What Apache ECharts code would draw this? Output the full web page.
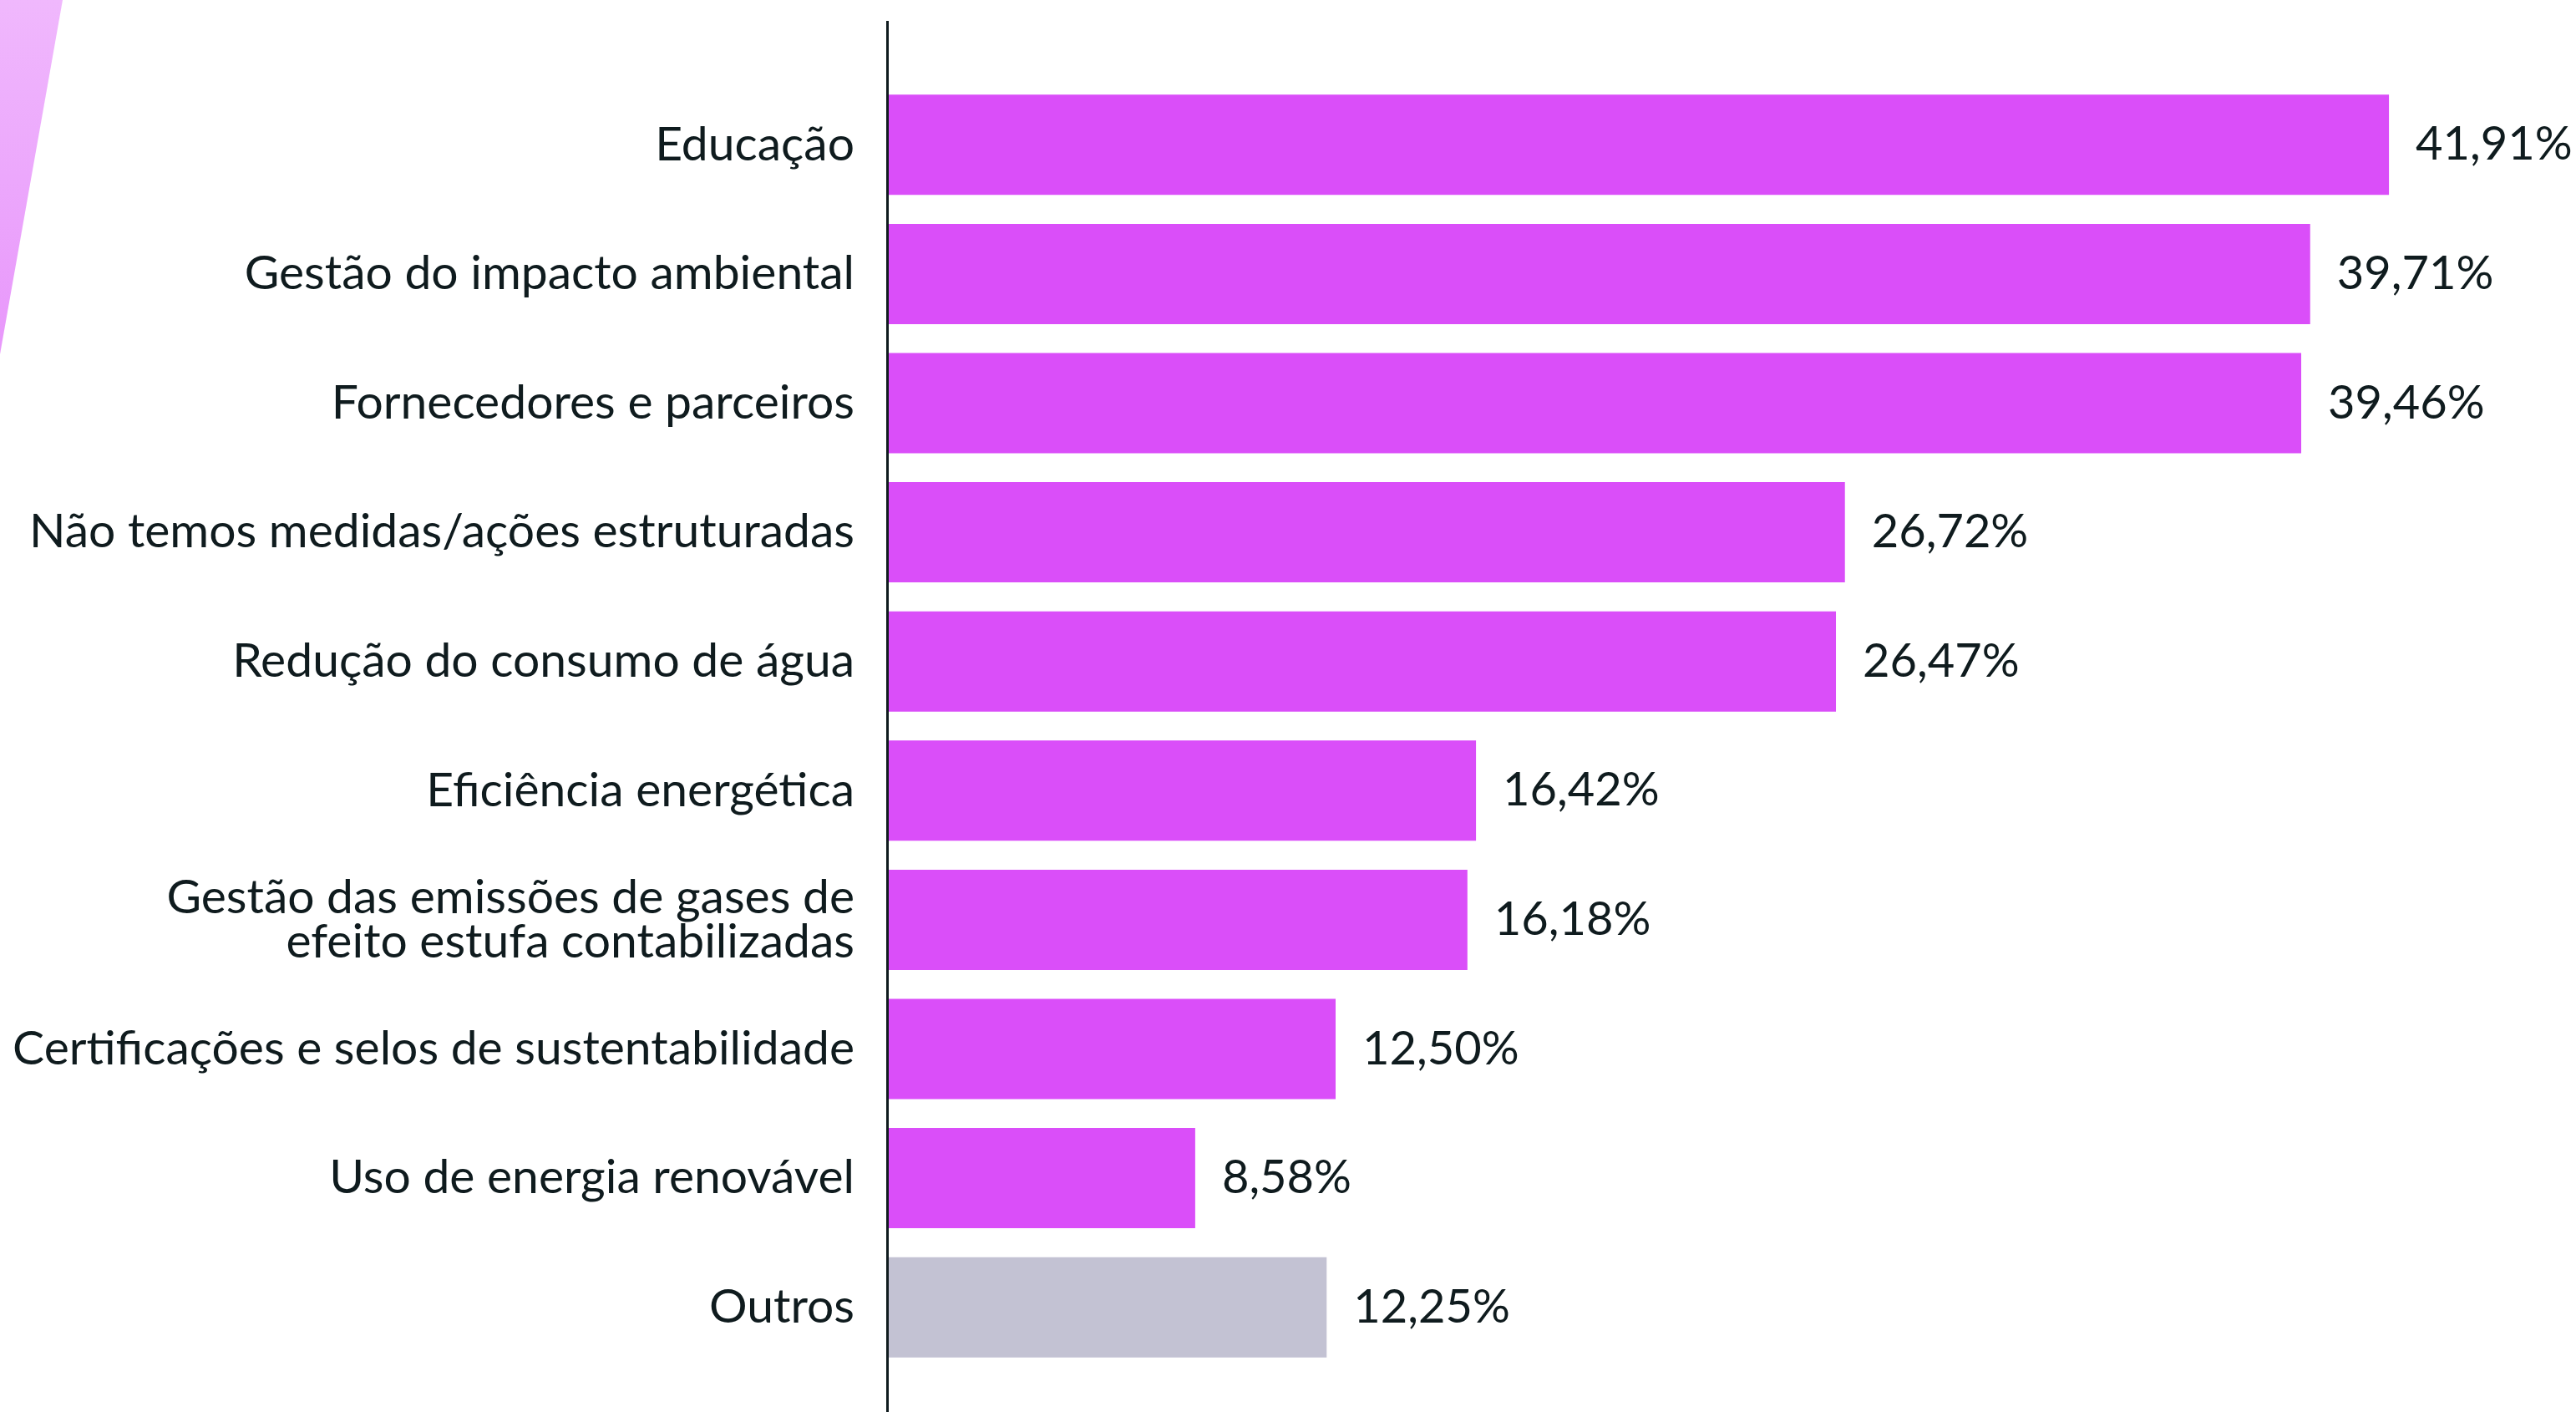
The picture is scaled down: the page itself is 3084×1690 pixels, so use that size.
<!DOCTYPE html>
<html>
<head>
<meta charset="utf-8">
<script src="https://cdn.jsdelivr.net/npm/echarts@6/dist/echarts.min.js"></script>
<style>
  html, body { margin: 0; padding: 0; background: #fff; }
  #chart { width: 3084px; height: 1690px; }
</style>
</head>
<body>
<div id="chart"></div>
<script>
// categorias (de cima para baixo)
const categories = [
  'Educação',
  'Gestão do impacto ambiental',
  'Fornecedores e parceiros',
  'Não temos medidas/ações estruturadas',
  'Redução do consumo de água',
  'Eficiência energética',
  'Gestão das emissões de gases de\nefeito estufa contabilizadas',
  'Certificações e selos de sustentabilidade',
  'Uso de energia renovável',
  'Outros'
]
const values = [41.91, 39.71, 39.46, 26.72, 26.47, 16.42, 16.18, 12.50, 8.58, 12.25]
const highlight = [true, true, true, true, true, true, true, true, true, false]

const BAR_COLOR = '#da4ef9'
const OTHER_COLOR = '#c3c2d3'
const TEXT_COLOR = '#0f1b1e'
const FONT = 'Lato, "Noto Sans", sans-serif'

const chart = echarts.init(document.getElementById('chart'), null, { renderer: 'canvas' })

const gridLeft = 1063

const option = {
  animation: false,
  backgroundColor: '#ffffff',
  grid: {
    left: gridLeft,
    right: 100,
    top: 96,
    bottom: 48,
    containLabel: false
  },
  xAxis: {
    type: 'value',
    min: 0,
    max: 44.8,
    show: false
  },
  yAxis: {
    type: 'category',
    inverse: true,
    data: categories,
    axisLine: { show: false },
    axisTick: { show: false },
    axisLabel: {
      margin: 40,
      color: TEXT_COLOR,
      fontFamily: FONT,
      fontSize: 57,
      lineHeight: 53,
      align: 'right'
    }
  },
  series: [{
    type: 'bar',
    barWidth: 120,
    data: values.map((v, i) => ({
      value: v,
      itemStyle: { color: highlight[i] ? BAR_COLOR : OTHER_COLOR }
    })),
    label: {
      show: true,
      position: 'right',
      distance: 32,
      color: TEXT_COLOR,
      fontFamily: FONT,
      fontSize: 56,
      formatter: p => p.value.toFixed(2).replace('.', ',') + '%'
    }
  }],
  graphic: [
    {
      // faixa decorativa no canto superior esquerdo
      type: 'polygon',
      shape: { points: [[0, 0], [75, 0], [0, 424]] },
      style: {
        fill: new echarts.graphic.LinearGradient(0, 0, 0, 1, [
          { offset: 0, color: '#f0b8fd' },
          { offset: 1, color: '#e897fb' }
        ])
      },
      z: 0
    },
    {
      // linha do eixo vertical
      type: 'line',
      shape: { x1: gridLeft - 0.5, y1: 25, x2: gridLeft - 0.5, y2: 1690 },
      style: { stroke: TEXT_COLOR, lineWidth: 3 },
      z: 10
    }
  ]
}

chart.setOption(option)
window.addEventListener('resize', () => chart.resize())
</script>
</body>
</html>
